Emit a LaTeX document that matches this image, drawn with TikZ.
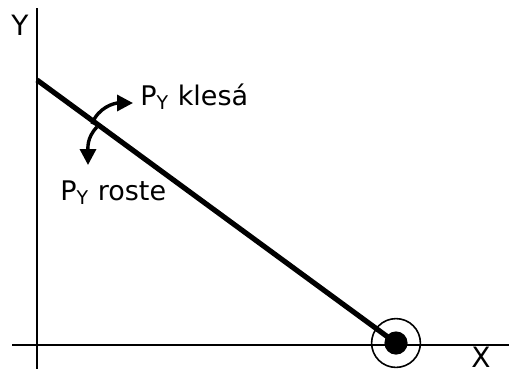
\documentclass[tikz,border=0pt]{standalone}
\usepackage{fontspec}
\setmainfont{DejaVu Sans}
\usetikzlibrary{arrows.meta,positioning}

\begin{document}
\begin{tikzpicture}[x=0.5pt,y=-0.5pt,
    axis/.style={line width=1pt},
    beam/.style={line width=2.6pt},
    rotarrow/.style={line width=1.7pt,-{Triangle[length=8pt,width=8pt]}},
    axlabel/.style={font=\fontsize{14}{16}\selectfont,inner sep=0pt},
    lbl/.style={font=\fontsize{13.5}{16}\selectfont,inner sep=0pt,anchor=base west}]
      \useasboundingbox (0,0) rectangle (509,371);
      % axes
      \coordinate (ytop) at (37,8);
      \coordinate (ybot) at (37,369);
      \coordinate (xleft) at (12,345);
      \coordinate (xright) at (509,345);
      \draw[axis] (ytop) -- (ybot);
      \draw[axis] (xleft) -- (xright);
      \node[axlabel] (ylab) at (20,25) {Y};
      \node[axlabel] (xlab) at (481,357) {X};
      % beam and hinge
      \coordinate (top) at (37,80);
      \coordinate (hinge) at (396,343);
      \draw[beam] (top) -- (hinge);
      \fill (hinge) circle (5.8pt);
      \draw[line width=0.8pt] (hinge) circle (12.2pt);
      % rotation arrows
      \coordinate (s1) at (92,124);
      \coordinate (e1) at (133,103);
      \coordinate (s2) at (97,127);
      \coordinate (e2) at (88,165);
      \draw[rotarrow] (s1) to[out=70,in=180] (e1);
      \draw[rotarrow] (s2) to[out=225,in=90] (e2);
      % labels
      \node[lbl] (kles) at (140,105) {P\textsubscript{Y} klesá};
      \node[lbl] (rost) at (60,200) {P\textsubscript{Y} roste};
\end{tikzpicture}
\end{document}
